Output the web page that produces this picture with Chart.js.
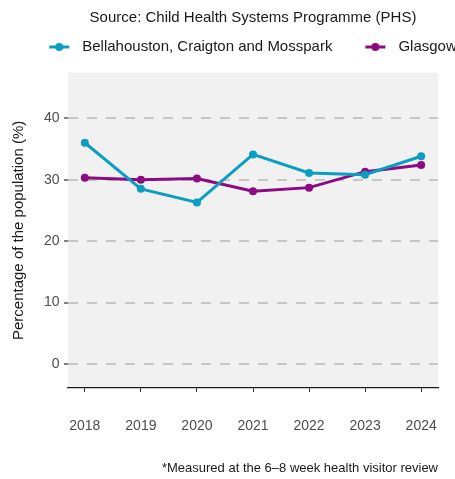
<!DOCTYPE html>
<html>
<head>
<meta charset="utf-8">
<title>Child Health Systems Programme</title>
<script src="https://cdn.jsdelivr.net/npm/chart.js@4/dist/chart.umd.min.js"></script>
<style>
  html, body { margin: 0; padding: 0; background: #fff; }
  #wrap { width: 455px; height: 479px; }
</style>
</head>
<body>
<div id="wrap"><canvas id="chart"></canvas></div>
<script>
/* ---------------- DATA ---------------- */
const YEARS        = [2018, 2019, 2020, 2021, 2022, 2023, 2024];
const BELLAHOUSTON = [36.0, 28.5, 26.3, 34.1, 31.1, 30.8, 33.8];
const GLASGOW      = [30.3, 30.0, 30.2, 28.1, 28.7, 31.3, 32.4];
const Y_TICKS      = [0, 10, 20, 30, 40];
const NAMES        = ["Bellahouston, Craigton and Mosspark", "Glasgow"];

/* --------------- STYLE ----------------- */
const TEAL   = "#0a9ec2";
const PURPLE = "#8c0a82";
const FONT   = "'Liberation Sans', Arial, Helvetica, sans-serif";

Chart.defaults.font.family = FONT;
Chart.defaults.font.size   = 14;
Chart.defaults.color       = "#1a1a1a";

/* -------------- helpers ---------------- */
const toPoints = vals => YEARS.map((x, i) => ({ x, y: vals[i] }));

const panelBg = {
  id: "panelBg",
  beforeDraw(chart) {
    const { ctx, chartArea: a } = chart;
    ctx.save();
    ctx.fillStyle = "#f1f1f1";
    ctx.fillRect(a.left, a.top, a.width, a.height);
    ctx.restore();
  }
};

// title centred over the panel rather than the whole canvas
const centreTitle = {
  id: "centreTitle",
  afterLayout(chart) {
    chart.titleBlock.left  = chart.chartArea.left;
    chart.titleBlock.right = chart.chartArea.right;
  }
};

// ggplot-style key row: line + dot, label, items 33px apart, centred on panel
const keyRow = {
  id: "keyRow",
  afterDraw(chart) {
    const { ctx, chartArea: a } = chart;
    const y = 47, icon = 33, gap = 33;
    ctx.save();
    ctx.font = `15px ${FONT}`;
    ctx.textBaseline = "middle";
    const items = chart.data.datasets.map(ds => ({ ds, w: icon + ctx.measureText(ds.label).width }));
    const total = items.reduce((s, it) => s + it.w, 0) + gap * (items.length - 1);
    let x = (a.left + a.right) / 2 - total / 2;
    items.forEach(({ ds, w }) => {
      ctx.strokeStyle = ds.borderColor;
      ctx.lineWidth = 3;
      ctx.beginPath(); ctx.moveTo(x, y); ctx.lineTo(x + 20, y); ctx.stroke();
      ctx.fillStyle = ds.borderColor;
      ctx.beginPath(); ctx.arc(x + 10, y, 4, 0, Math.PI * 2); ctx.fill();
      ctx.fillStyle = "#1a1a1a";
      ctx.fillText(ds.label, x + icon, y);
      x += w + gap;
    });
    ctx.restore();
  }
};

const series = (label, vals, colour) => ({
  label,
  data: toPoints(vals),
  borderColor: colour,
  backgroundColor: colour,
  borderWidth: 3,
  pointRadius: 4,
  pointHoverRadius: 4,
  pointBorderWidth: 0,
  pointBackgroundColor: colour,
  tension: 0
});

/* ---------------- CHART ---------------- */
new Chart(document.getElementById("chart"), {
  type: "line",
  data: {
    datasets: [
      series(NAMES[0], BELLAHOUSTON, TEAL),
      series(NAMES[1], GLASGOW, PURPLE)
    ]
  },
  options: {
    responsive: true,
    maintainAspectRatio: false,
    animation: false,
    layout: { padding: { top: 0, right: 17, bottom: 0, left: 0 } },
    plugins: {
      title: {
        display: true,
        text: "Source: Child Health Systems Programme (PHS)",
        color: "#1a1a1a",
        font: { size: 15, weight: "normal" },
        padding: { top: 9, bottom: 45.7 }
      },
      legend: { display: false },
      subtitle: {
        display: true,
        position: "bottom",
        align: "end",
        text: "*Measured at the 6\u20138 week health visitor review",
        color: "#1a1a1a",
        font: { size: 13, weight: "normal" },
        padding: { top: 0, bottom: 2.6 }
      },
      tooltip: { enabled: false }
    },
    scales: {
      x: {
        type: "linear",
        min: 2017.7,
        max: 2024.3,
        afterBuildTicks: axis => { axis.ticks = YEARS.map(value => ({ value })); },
        // the big tick padding would otherwise eat into the panel's sides
        afterFit: axis => { axis.paddingLeft = 0; axis.paddingRight = 0; },
        ticks: { color: "#4d4d4d", padding: 26, callback: v => String(v) },
        grid: { drawOnChartArea: false, drawTicks: true, tickLength: 4, tickColor: "#333", tickWidth: 1 },
        border: { display: true, color: "#1a1a1a", width: 1.2 }
      },
      y: {
        min: -3.9,
        max: 47.4,
        afterBuildTicks: axis => { axis.ticks = Y_TICKS.map(value => ({ value })); },
        afterFit: axis => { axis.width = 68; },
        ticks: { color: "#4d4d4d", padding: 4.5, callback: v => String(v) },
        grid: { color: "#c6c6c6", lineWidth: 2, tickLength: 4, tickColor: "#333", tickWidth: 1.2 },
        border: { display: false, dash: [10, 9] },
        title: {
          display: true,
          text: "Percentage of the population (%)",
          color: "#1a1a1a",
          font: { size: 15 },
          padding: { top: 9.5, bottom: 0 }
        }
      }
    }
  },
  plugins: [panelBg, centreTitle, keyRow]
});
</script>
</body>
</html>
